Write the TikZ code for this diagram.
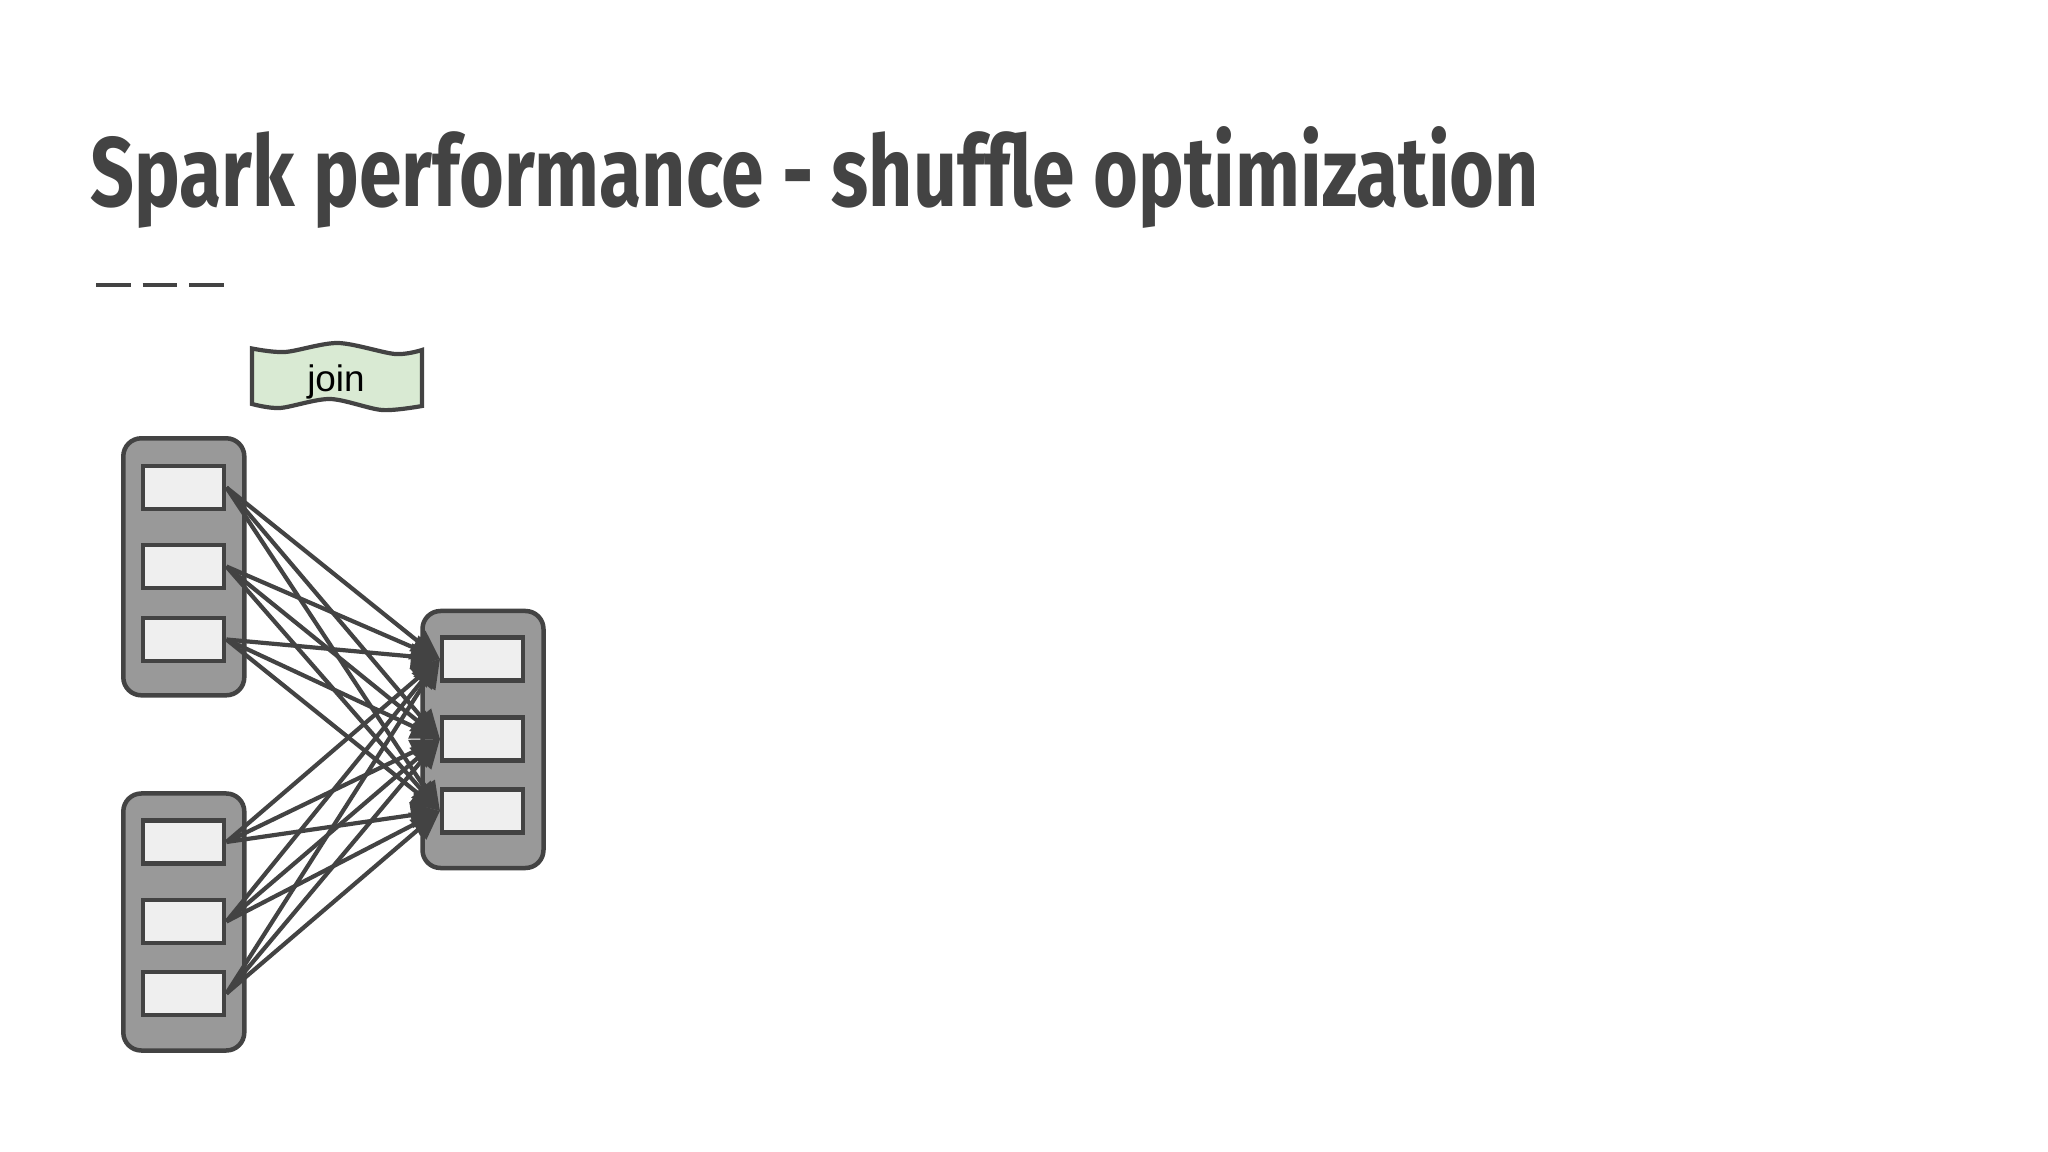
\documentclass[tikz,border=0pt]{standalone}
\usepackage{graphicx}
\usepackage{fontspec}
\setsansfont{Liberation Sans}
\newfontfamily\titlefont{Fira Sans}
\usepackage{tikz}
\usetikzlibrary{arrows.meta,positioning}
\definecolor{ink}{HTML}{434343}
\definecolor{partgray}{HTML}{999999}
\definecolor{recgray}{HTML}{EFEFEF}
\definecolor{flaggreen}{HTML}{D9EAD3}

\begin{document}
\begin{tikzpicture}[
    part/.style={rectangle, rounded corners=1.8mm, draw=ink, line width=0.45mm,
                 fill=partgray, minimum width=1.21cm, minimum height=2.57cm, inner sep=0pt},
    rec/.style={rectangle, draw=ink, line width=0.45mm, fill=recgray,
                minimum width=0.81cm, minimum height=0.43cm, inner sep=0pt},
    flag/.style={draw=ink, line width=0.42mm, fill=flaggreen},
    arrow/.style={-{Triangle[length=2.9mm, width=2.5mm]}, draw=ink, line width=0.42mm}
]

% ================= PAGE & TITLE =================
\fill[white] (0,0) rectangle (20.48,-11.52);
\useasboundingbox (0,0) rectangle (20.48,-11.52);

\node[anchor=base west, inner sep=0pt, text=ink] (Title) at (0.90,-2.07)
    {\resizebox{14.48cm}{0.80cm}{\titlefont\bfseries Spark performance - shuffle optimization}};
\draw[ink, line width=0.4mm, dash pattern=on 3.47mm off 1.2mm] (0.96,-2.853) -- (2.241,-2.853);

% ================= JOIN FLAG =================
\draw[flag] plot[smooth] coordinates {(2.52,-3.485) (2.85,-3.52) (3.38,-3.43) (3.95,-3.54) (4.22,-3.50)}
    -- plot[smooth] coordinates {(4.22,-4.06) (3.82,-4.10) (3.30,-3.99) (2.80,-4.08) (2.52,-4.04)} -- cycle;
\node[anchor=base, font=\sffamily\fontsize{10.5}{12}\selectfont, inner sep=0pt] (Join) at (3.36,-3.92) {join};

% ================= PARTITIONS =================
\node[part] (PartA) at (1.838,-5.668) {};
\node[rec] (A1) at (1.837,-4.875) {};
\node[rec] (A2) at (1.837,-5.665) {};
\node[rec] (A3) at (1.837,-6.395) {};

\node[part] (PartB) at (1.838,-9.22) {};
\node[rec] (B1) at (1.837,-8.42) {};
\node[rec] (B2) at (1.837,-9.215) {};
\node[rec] (B3) at (1.837,-9.935) {};

\node[part] (PartJ) at (4.83,-7.395) {};
\node[rec] (J1) at (4.827,-6.59) {};
\node[rec] (J2) at (4.827,-7.39) {};
\node[rec] (J3) at (4.827,-8.11) {};

% ================= SHUFFLE ARROWS =================
\draw[arrow] (A1.east) -- (J1.west);
\draw[arrow] (A1.east) -- (J2.west);
\draw[arrow] (A1.east) -- (J3.west);
\draw[arrow] (A2.east) -- (J1.west);
\draw[arrow] (A2.east) -- (J2.west);
\draw[arrow] (A2.east) -- (J3.west);
\draw[arrow] (A3.east) -- (J1.west);
\draw[arrow] (A3.east) -- (J2.west);
\draw[arrow] (A3.east) -- (J3.west);
\draw[arrow] (B1.east) -- (J1.west);
\draw[arrow] (B1.east) -- (J2.west);
\draw[arrow] (B1.east) -- (J3.west);
\draw[arrow] (B2.east) -- (J1.west);
\draw[arrow] (B2.east) -- (J2.west);
\draw[arrow] (B2.east) -- (J3.west);
\draw[arrow] (B3.east) -- (J1.west);
\draw[arrow] (B3.east) -- (J2.west);
\draw[arrow] (B3.east) -- (J3.west);

\end{tikzpicture}
\end{document}
